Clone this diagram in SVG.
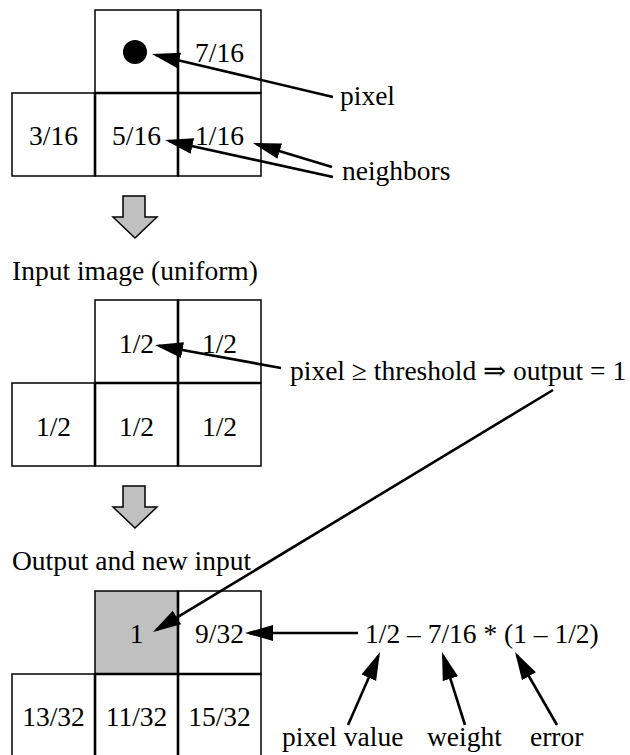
<svg xmlns="http://www.w3.org/2000/svg" width="630" height="755" viewBox="0 0 630 755">
<style>
.cell{fill:#fff;stroke:#000;stroke-width:1.5}
.gray{fill:#c0c0c0}
.div{stroke:#000;stroke-width:2.6;fill:none}
.conn{stroke:#000;stroke-width:2.6;fill:none;marker-end:url(#ah)}
.down{fill:#c0c0c0;stroke:#000;stroke-width:1.5;stroke-linejoin:miter}
</style>
<defs>
<marker id="ah" markerUnits="userSpaceOnUse" markerWidth="30" markerHeight="20" viewBox="0 -10 30 20" refX="24" refY="0" orient="auto">
<path d="M0,-8 L28,0 L0,8 z" fill="#000"/>
</marker>
</defs>

<g id="grid-top">
<rect class="cell" x="95" y="10" width="83" height="83"/>
<rect class="cell" x="178" y="10" width="83" height="83"/>
<rect class="cell" x="12" y="93" width="83" height="83"/>
<rect class="cell" x="95" y="93" width="83" height="83"/>
<rect class="cell" x="178" y="93" width="83" height="83"/>
<path class="div" d="M178,10 V176 M95,93 V176 M95,93 H261"/>
<circle cx="135" cy="52" r="12" fill="#000"/>
<text font-family="Liberation Serif" style="font-family:'Liberation Serif',serif" font-size="27.5" text-anchor="middle" x="219.5" y="62">7/16</text>
<text font-family="Liberation Serif" style="font-family:'Liberation Serif',serif" font-size="27.5" text-anchor="middle" x="53.5" y="145">3/16</text>
<text font-family="Liberation Serif" style="font-family:'Liberation Serif',serif" font-size="27.5" text-anchor="middle" x="136.5" y="145">5/16</text>
<text font-family="Liberation Serif" style="font-family:'Liberation Serif',serif" font-size="27.5" text-anchor="middle" x="219.5" y="145">1/16</text>
</g>

<g id="label-pixel"><text font-family="Liberation Serif" style="font-family:'Liberation Serif',serif" font-size="27.5" x="340" y="105">pixel</text></g>
<g id="label-neighbors"><text font-family="Liberation Serif" style="font-family:'Liberation Serif',serif" font-size="27.5" x="342" y="180">neighbors</text></g>

<g id="down-arrow-1"><polygon class="down" points="123,196 145,196 145,217 157,217 135,238 113,217 123,217"/></g>

<g id="label-input"><text font-family="Liberation Serif" style="font-family:'Liberation Serif',serif" font-size="27.5" x="12" y="280">Input image (uniform)</text></g>

<g id="grid-middle">
<rect class="cell" x="95" y="300" width="83" height="83"/>
<rect class="cell" x="178" y="300" width="83" height="83"/>
<rect class="cell" x="12" y="383" width="83" height="83"/>
<rect class="cell" x="95" y="383" width="83" height="83"/>
<rect class="cell" x="178" y="383" width="83" height="83"/>
<path class="div" d="M178,300 V466 M95,383 V466 M95,383 H261"/>
<text font-family="Liberation Serif" style="font-family:'Liberation Serif',serif" font-size="27.5" text-anchor="middle" x="136.5" y="353">1/2</text>
<text font-family="Liberation Serif" style="font-family:'Liberation Serif',serif" font-size="27.5" text-anchor="middle" x="219.5" y="353">1/2</text>
<text font-family="Liberation Serif" style="font-family:'Liberation Serif',serif" font-size="27.5" text-anchor="middle" x="53.5" y="436">1/2</text>
<text font-family="Liberation Serif" style="font-family:'Liberation Serif',serif" font-size="27.5" text-anchor="middle" x="136.5" y="436">1/2</text>
<text font-family="Liberation Serif" style="font-family:'Liberation Serif',serif" font-size="27.5" text-anchor="middle" x="219.5" y="436">1/2</text>
</g>

<g id="label-threshold"><text font-family="Liberation Serif" style="font-family:'Liberation Serif','DejaVu Serif',serif" font-size="27.5" x="290" y="380">pixel ≥ threshold ⇒ output = 1</text></g>

<g id="down-arrow-2"><polygon class="down" points="123,486 145,486 145,507 157,507 135,528 113,507 123,507"/></g>

<g id="label-output"><text font-family="Liberation Serif" style="font-family:'Liberation Serif',serif" font-size="27.5" x="12" y="570">Output and new input</text></g>

<g id="grid-bottom">
<rect class="cell gray" x="95" y="591" width="83" height="83"/>
<rect class="cell" x="178" y="591" width="83" height="83"/>
<rect class="cell" x="12" y="674" width="83" height="83"/>
<rect class="cell" x="95" y="674" width="83" height="83"/>
<rect class="cell" x="178" y="674" width="83" height="83"/>
<path class="div" d="M178,591 V757 M95,674 V757 M95,674 H261"/>
<text font-family="Liberation Serif" style="font-family:'Liberation Serif',serif" font-size="27.5" text-anchor="middle" x="136.5" y="643">1</text>
<text font-family="Liberation Serif" style="font-family:'Liberation Serif',serif" font-size="27.5" text-anchor="middle" x="219.5" y="643">9/32</text>
<text font-family="Liberation Serif" style="font-family:'Liberation Serif',serif" font-size="27.5" text-anchor="middle" x="53.5" y="726">13/32</text>
<text font-family="Liberation Serif" style="font-family:'Liberation Serif',serif" font-size="27.5" text-anchor="middle" x="136.5" y="726">11/32</text>
<text font-family="Liberation Serif" style="font-family:'Liberation Serif',serif" font-size="27.5" text-anchor="middle" x="219.5" y="726">15/32</text>
</g>

<g id="label-equation"><text font-family="Liberation Serif" style="font-family:'Liberation Serif',serif" font-size="27.5" x="365" y="643">1/2 – 7/16 * (1 – 1/2)</text></g>
<g id="label-pixel-value"><text font-family="Liberation Serif" style="font-family:'Liberation Serif',serif" font-size="27.5" x="282" y="746">pixel value</text></g>
<g id="label-weight"><text font-family="Liberation Serif" style="font-family:'Liberation Serif',serif" font-size="27.5" x="427" y="746">weight</text></g>
<g id="label-error"><text font-family="Liberation Serif" style="font-family:'Liberation Serif',serif" font-size="27.5" x="530" y="746">error</text></g>

<g id="connectors">
<line class="conn" x1="333" y1="97" x2="155.9" y2="54.9"/>
<line class="conn" x1="332" y1="167" x2="256.8" y2="144.2"/>
<line class="conn" x1="333" y1="177" x2="168.9" y2="140.9"/>
<line class="conn" x1="281" y1="368" x2="158.9" y2="345.7"/>
<line class="conn" x1="553" y1="390" x2="156.4" y2="629.9"/>
<line class="conn" x1="358" y1="633" x2="249" y2="633"/>
<line class="conn" x1="348" y1="725" x2="378.4" y2="655.7"/>
<line class="conn" x1="465" y1="725" x2="443.2" y2="655.8"/>
<line class="conn" x1="557" y1="725" x2="517" y2="655.5"/>
</g>
</svg>
